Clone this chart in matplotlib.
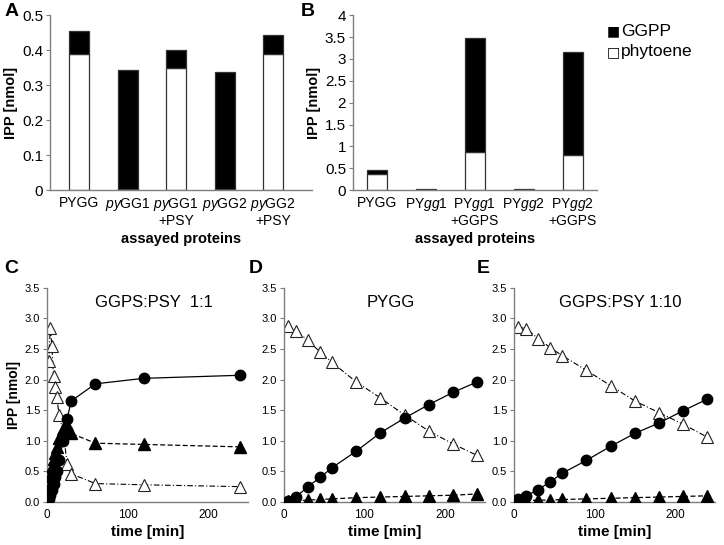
import numpy as np
import matplotlib
matplotlib.use('Agg')
import matplotlib.pyplot as plt

plt.rcParams['font.family'] = ['Liberation Sans', 'DejaVu Sans']
plt.rcParams['mathtext.fontset'] = 'custom'
plt.rcParams['mathtext.rm'] = 'Liberation Sans'
plt.rcParams['mathtext.it'] = 'Liberation Sans:italic'
NARROW = ['Liberation Sans Narrow', 'Liberation Sans', 'DejaVu Sans']

# ---- bar data (A, B) ----
labels_a = ['PYGG', '$\\it{py}$GG1', '$\\it{py}$GG1\n+PSY', '$\\it{py}$GG2', '$\\it{py}$GG2\n+PSY']
phyt_a = [0.39, 0.003, 0.35, 0.003, 0.39]
total_a = [0.455, 0.343, 0.40, 0.337, 0.445]

labels_b = ['PYGG', 'PY$\\it{gg}$1', 'PY$\\it{gg}$1\n+GGPS', 'PY$\\it{gg}$2', 'PY$\\it{gg}$2\n+GGPS']
phyt_b = [0.38, 0.0, 0.87, 0.0, 0.81]
total_b = [0.457, 0.02, 3.48, 0.02, 3.16]

# ---- time courses (C, D, E) ----
t_c = [2, 4, 6, 8, 10, 12, 15, 20, 25, 30, 60, 120, 240]
circ_c = [0.05, 0.12, 0.2, 0.3, 0.4, 0.5, 0.68, 1.0, 1.36, 1.65, 1.93, 2.02, 2.07]
ftri_c = [0.25, 0.42, 0.57, 0.7, 0.8, 0.9, 1.05, 1.2, 1.25, 1.12, 0.96, 0.94, 0.9]
otri_c = [2.3, 2.85, 2.55, 2.05, 1.88, 1.72, 1.42, 1.15, 0.62, 0.46, 0.3, 0.28, 0.25]

t_de = [5, 15, 30, 45, 60, 90, 120, 150, 180, 210, 240]
circ_d = [0.02, 0.08, 0.25, 0.40, 0.56, 0.83, 1.13, 1.37, 1.59, 1.79, 1.96]
ftri_d = [0.01, 0.02, 0.03, 0.04, 0.05, 0.07, 0.08, 0.09, 0.10, 0.11, 0.13]
otri_d = [2.87, 2.80, 2.64, 2.45, 2.28, 1.96, 1.70, 1.42, 1.16, 0.95, 0.76]

circ_e = [0.04, 0.10, 0.20, 0.33, 0.47, 0.68, 0.91, 1.12, 1.29, 1.49, 1.68]
ftri_e = [0.01, 0.02, 0.03, 0.03, 0.04, 0.05, 0.06, 0.07, 0.08, 0.09, 0.10]
otri_e = [2.86, 2.83, 2.67, 2.52, 2.39, 2.15, 1.90, 1.65, 1.46, 1.27, 1.06]

axcol = '#7f7f7f'
fig = plt.figure(figsize=(7.24, 5.45), dpi=100)


def style(ax):
    for s in ['top', 'right']:
        ax.spines[s].set_visible(False)
    for s in ['left', 'bottom']:
        ax.spines[s].set_color(axcol)
        ax.spines[s].set_linewidth(1.0)
    ax.tick_params(axis='y', length=3, color=axcol, pad=2)
    ax.tick_params(axis='x', length=0)


def bars(ax, labels, phyt, total, ymax, yt, ytl, xlim):
    x = np.arange(len(labels))
    ggpp = np.array(total) - np.array(phyt)
    ax.bar(x, phyt, width=0.41, color='white', edgecolor='#333333', linewidth=0.9)
    ax.bar(x, ggpp, bottom=phyt, width=0.41, color='black', edgecolor='#333333', linewidth=0.9)
    ax.set_xlim(*xlim)
    ax.set_ylim(0, ymax)
    ax.set_yticks(yt)
    ax.set_yticklabels(ytl, fontsize=11)
    ax.set_xticks(x)
    ax.set_xticklabels(labels, fontsize=10, linespacing=1.1)
    ax.tick_params(axis='x', pad=4)
    ax.set_xlabel('assayed proteins', fontsize=10.5, fontweight='bold', family=NARROW, labelpad=3)
    ax.set_ylabel('IPP [nmol]', fontsize=10.5, fontweight='bold', family=NARROW, labelpad=3)
    style(ax)


axA = fig.add_axes([0.069, 0.651, 0.362, 0.321])
bars(axA, labels_a, phyt_a, total_a, 0.5, [0, 0.1, 0.2, 0.3, 0.4, 0.5],
     ['0', '0.1', '0.2', '0.3', '0.4', '0.5'], (-0.6, 4.8))
axB = fig.add_axes([0.4875, 0.651, 0.337, 0.321])
bars(axB, labels_b, phyt_b, total_b, 4, np.arange(0, 4.01, 0.5),
     ['0', '0.5', '1', '1.5', '2', '2.5', '3', '3.5', '4'], (-0.5, 4.5))

# legend for the bar panels
fig.text(0.847, 0.942, '\u25A0', fontsize=10, ha='center', va='center', family='DejaVu Sans')
fig.text(0.858, 0.942, 'GGPP', fontsize=12.5, ha='left', va='center')
fig.text(0.847, 0.905, '\u25A1', fontsize=10, ha='center', va='center', family='DejaVu Sans')
fig.text(0.858, 0.905, 'phytoene', fontsize=12.5, ha='left', va='center')


def course(ax, t, circ, ftri, otri, title, ylabel):
    ax.plot(t, otri, linestyle=(0, (5, 2, 1, 2)), color='black', lw=0.8,
            marker='^', ms=8.5, mfc='white', mec='#222222', mew=0.8, zorder=2)
    ax.plot(t, ftri, linestyle=(0, (4, 2)), color='black', lw=0.9,
            marker='^', ms=8, mfc='black', mec='black', zorder=3)
    ax.plot(t, circ, linestyle='-', color='black', lw=0.9,
            marker='o', ms=7.5, mfc='black', mec='black', zorder=4)
    ax.set_xlim(0, 250)
    ax.set_ylim(0, 3.5)
    ax.set_yticks(np.arange(0, 3.51, 0.5))
    ax.set_yticklabels(['%.1f' % v for v in np.arange(0, 3.51, 0.5)], fontsize=8, family=NARROW)
    ax.set_xticks([0, 100, 200])
    ax.set_xticklabels(['0', '100', '200'], fontsize=8.5, family=NARROW)
    ax.tick_params(axis='x', pad=5)
    ax.set_xlabel('time [min]', fontsize=11, fontweight='bold', family=NARROW, labelpad=3)
    if ylabel:
        ax.set_ylabel('IPP [nmol]', fontsize=10, fontweight='bold', family=NARROW, labelpad=3)
    ax.text(0.53, 0.93, title, transform=ax.transAxes, ha='center', va='center', fontsize=12)
    style(ax)


axC = fig.add_axes([0.065, 0.079, 0.278, 0.393])
course(axC, t_c, circ_c, ftri_c, otri_c, 'GGPS:PSY  1:1', True)
axD = fig.add_axes([0.392, 0.079, 0.278, 0.393])
course(axD, t_de, circ_d, ftri_d, otri_d, 'PYGG', False)
axE = fig.add_axes([0.710, 0.079, 0.278, 0.393])
course(axE, t_de, circ_e, ftri_e, otri_e, 'GGPS:PSY 1:10', False)

# panel letters
for lx, ly, s in [(0.006, 0.978, 'A'), (0.416, 0.978, 'B'), (0.006, 0.508, 'C'),
                  (0.343, 0.508, 'D'), (0.659, 0.508, 'E')]:
    fig.text(lx, ly, s, fontsize=14, fontweight='bold', ha='left', va='center')

fig.savefig('out.png', dpi=100)
